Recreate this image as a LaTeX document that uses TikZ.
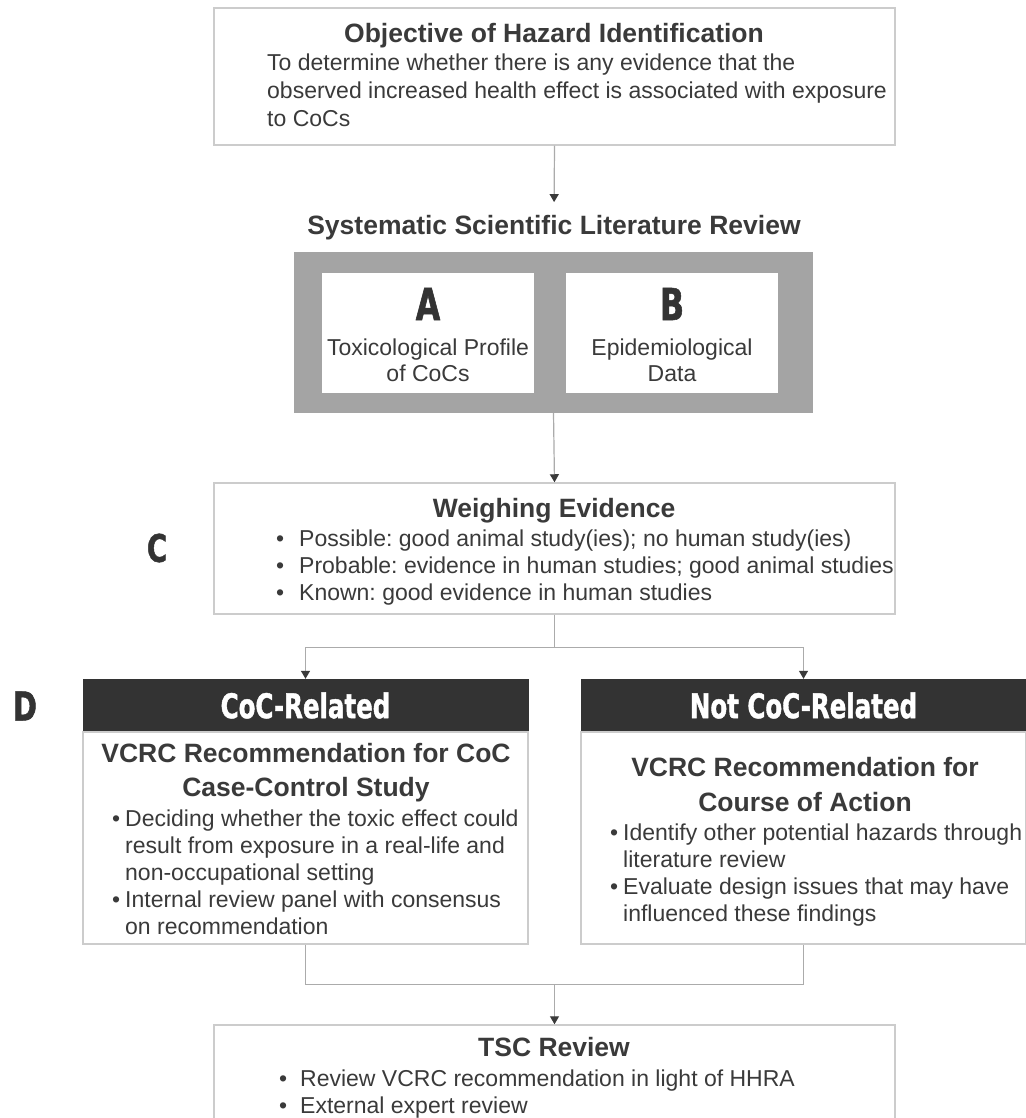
\documentclass[tikz,border=0pt]{standalone}
\usepackage{fontspec}
\setmainfont{Liberation Sans}
\newfontfamily\heavyfont{DejaVu Sans}[FakeStretch=0.72,FakeBold=1.2]
\usetikzlibrary{positioning,calc,arrows.meta}
\definecolor{inkgray}{HTML}{3A3A3A}
\definecolor{edgegray}{HTML}{CCCCCC}
\definecolor{wiregray}{HTML}{ABABAB}
\definecolor{slrgray}{HTML}{A4A4A4}
\definecolor{headgray}{HTML}{333333}
\tikzset{box/.style={draw=edgegray, line width=1.5pt, fill=white, inner sep=0pt}}
\tikzset{wire/.style={draw=wiregray, line width=1.2pt}}
\tikzset{arr/.style={wire, -{Triangle[width=9pt,length=8pt,color=inkgray]}}}
\tikzset{ttl/.style={font=\fontsize{26.5}{34}\selectfont\bfseries, text=inkgray, inner sep=0pt, align=center}}
\tikzset{txt/.style={font=\fontsize{23}{27}\selectfont, text=inkgray, inner sep=0pt, align=left}}
\tikzset{big/.style={font=\fontsize{44}{44}\heavyfont\bfseries, text=headgray, inner sep=0pt}}
\tikzset{banner/.style={fill=headgray, draw=headgray, text=white, font=\fontsize{34}{34}\heavyfont\bfseries, inner sep=0pt}}
\newcommand{\bpt}[1]{\makebox[#1][l]{\textbullet}}
\newcommand{\hng}[1]{\hspace*{#1}}
\frenchspacing

\begin{document}
\begin{tikzpicture}[x=1pt,y=-1pt]
	\useasboundingbox (0,0) rectangle (1025,1118);

	\node[box, minimum width=681pt, minimum height=137pt] (obj) at (554.5,76.5) {};
	\node[ttl, anchor=base] (objT) at (554,42.5) {Objective of Hazard Identification};
	\node[txt, anchor=north west, font=\fontsize{23}{28}\selectfont] (objB) at (267,53.5)
		{To determine whether there is any evidence that the\\
		 observed increased health effect is associated with exposure\\
		 to CoCs};

	\node[ttl, anchor=base] (slrT) at (554,234.5) {Systematic Scientific Literature Review};
	\node[fill=slrgray, minimum width=519pt, minimum height=161pt, inner sep=0pt] (slr) at (553.5,332.5) {};
	\node[fill=white, minimum width=212pt, minimum height=120pt, inner sep=0pt] (A) at (428,333) {};
	\node[fill=white, minimum width=212pt, minimum height=120pt, inner sep=0pt] (B) at (672,333) {};
	\node[big] (Aletter) at (428,304) {A};
	\node[big] (Bletter) at (672,304) {B};
	\node[txt, align=center, font=\fontsize{23}{26}\selectfont, anchor=north] (Atext) at (428,338.5)
		{Toxicological Profile\\of CoCs};
	\node[txt, align=center, font=\fontsize{23}{26}\selectfont, anchor=north] (Btext) at (672,338.5)
		{Epidemiological\\Data};

	\node[box, minimum width=681pt, minimum height=131pt] (we) at (554.5,548.5) {};
	\node[ttl, anchor=base] (weT) at (554,517.5) {Weighing Evidence};
	\node[txt, anchor=north west] (weB) at (276,529.5)
		{\bpt{23pt}Possible: good animal study(ies); no human study(ies)\\
		 \bpt{23pt}Probable: evidence in human studies; good animal studies\\
		 \bpt{23pt}Known: good evidence in human studies};
	\node[big, font=\fontsize{38}{38}\heavyfont\bfseries] (Cletter) at (157,548) {C};

	\node[banner, minimum width=445pt, minimum height=53pt] (cocH) at (305.5,705.5) {CoC-Related};
	\node[box, minimum width=445pt, minimum height=212pt] (cocB) at (305.5,838) {};
	\node[ttl, anchor=north] (cocV) at (306,743.3)
		{VCRC Recommendation for CoC\\Case-Control Study};
	\node[txt, anchor=north west] (cocL) at (112,809.5)
		{\bpt{13pt}Deciding whether the toxic effect could\\
		 \hng{13pt}result from exposure in a real-life and\\
		 \hng{13pt}non-occupational setting\\
		 \bpt{13pt}Internal review panel with consensus\\
		 \hng{13pt}on recommendation};

	\node[banner, minimum width=445pt, minimum height=53pt] (notH) at (803.5,705.5) {Not CoC-Related};
	\node[box, minimum width=445pt, minimum height=212pt] (notB) at (803.5,838) {};
	\node[ttl, anchor=north, font=\fontsize{26.5}{35}\selectfont\bfseries] (notV) at (805,757.3)
		{VCRC Recommendation for\\Course of Action};
	\node[txt, anchor=north west] (notL) at (610,823.5)
		{\bpt{13pt}Identify other potential hazards through\\
		 \hng{13pt}literature review\\
		 \bpt{13pt}Evaluate design issues that may have\\
		 \hng{13pt}influenced these findings};
	\node[big, font=\fontsize{40}{40}\heavyfont\bfseries] (Dletter) at (25,706) {D};

	\node[box, minimum width=681pt, minimum height=115pt] (tsc) at (554.5,1082.5) {};
	\node[ttl, anchor=base] (tscT) at (554,1056.5) {TSC Review};
	\node[txt, anchor=north west] (tscB) at (279,1069.5)
		{\bpt{21pt}Review VCRC recommendation in light of HHRA\\
		 \bpt{21pt}External expert review};

	\draw[arr, shorten >=13pt] (obj.south) -- (slrT.north);
	\draw[arr] (slr.south) -- (we.north);
	\coordinate (fork) at ($(we.south)+(0,33)$);
	\draw[wire] (we.south) -- (fork);
	\draw[arr] (fork) -| (cocH.north);
	\draw[arr] (fork) -| (notH.north);
	\coordinate (merge) at ($(tsc.north)+(0,-40)$);
	\draw[wire] (cocB.south) |- (merge) -| (notB.south);
	\draw[arr] (merge) -- (tsc.north);
\end{tikzpicture}
\end{document}
